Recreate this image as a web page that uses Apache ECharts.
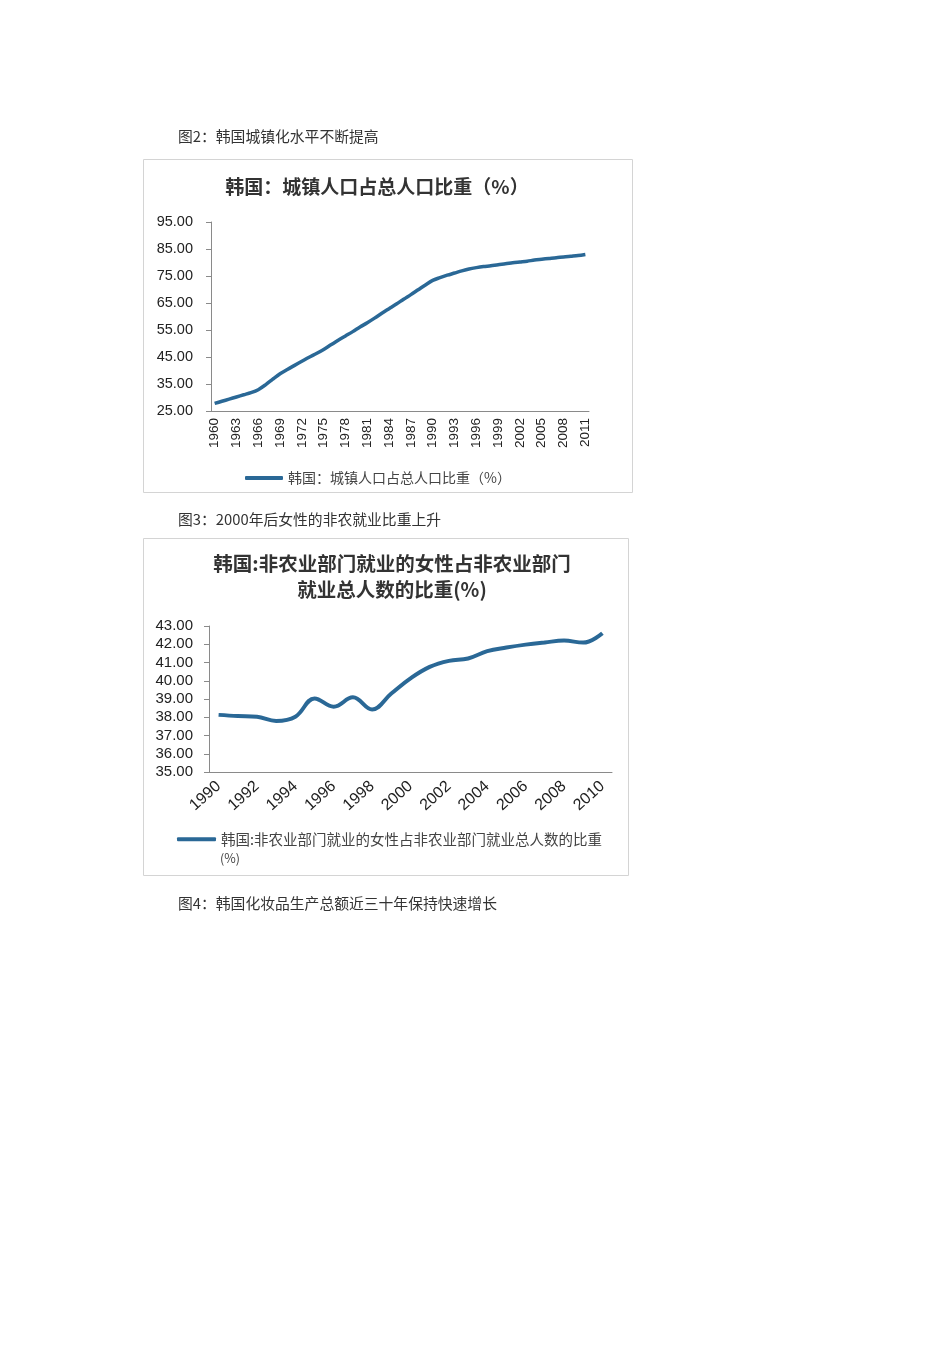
<!DOCTYPE html>
<html>
<head>
<meta charset="utf-8">
<script src="https://cdn.jsdelivr.net/npm/echarts@6/dist/echarts.min.js"></script>
<style>
  html, body { margin: 0; padding: 0; background: #fff; }
  #page { width: 950px; height: 1345px; }
</style>
</head>
<body>
<div id="page"></div>
<script>
// 图2 城镇人口占总人口比重 1960-2011
const urbanYears = []
for (let y = 1960; y <= 2011; y++) urbanYears.push(String(y))
const urbanShare = [
  27.8, 28.6, 29.4, 30.2, 31.0, 31.8, 32.9, 34.7, 36.8, 38.8,
  40.4, 41.9, 43.4, 44.9, 46.3, 47.8, 49.5, 51.2, 52.8, 54.4,
  56.1, 57.7, 59.4, 61.2, 62.9, 64.6, 66.4, 68.1, 69.9, 71.7,
  73.4, 74.4, 75.3, 76.1, 76.9, 77.6, 78.1, 78.5, 78.8, 79.2,
  79.5, 79.9, 80.2, 80.5, 80.9, 81.2, 81.5, 81.8, 82.0, 82.3,
  82.6, 83.0
]
const urbanName = "韩国：城镇人口占总人口比重（%）"

// 图3 非农业部门就业女性比重 1990-2010
const femaleYears = []
for (let y = 1990; y <= 2010; y++) femaleYears.push(String(y))
const femaleShare = [
  38.13, 38.07, 38.03, 37.80, 38.03, 39.03, 38.58, 39.09, 38.43, 39.30,
  40.13, 40.76, 41.09, 41.22, 41.62, 41.82, 41.98, 42.10, 42.20, 42.09,
  42.60
]
const femaleName = "韩国:非农业部门就业的女性占非农业部门就业总人数的比重"

const captions = [
  "图2：韩国城镇化水平不断提高",
  "图3：2000年后女性的非农就业比重上升",
  "图4：韩国化妆品生产总额近三十年保持快速增长"
]

const lineColor = "#2a6896"
const axisColor = "#8a8a8a"
const numFont = "Liberation Sans, Arial, sans-serif"
const cjkFont = "Noto Sans CJK SC, sans-serif"

const dom = document.getElementById("page")
const myChart = echarts.init(dom, null, { renderer: "canvas" })

let option = {
  backgroundColor: "#fff",
  animation: false,
  title: [
    {
      text: "韩国：城镇人口占总人口比重（%）",
      left: 372,
      top: 172,
      textAlign: "center",
      textStyle: { fontFamily: cjkFont, fontSize: 19, fontWeight: "bold", color: "#333" }
    },
    {
      text: "韩国:非农业部门就业的女性占非农业部门\n就业总人数的比重(%)",
      left: 387,
      top: 546,
      textAlign: "center",
      textStyle: { fontFamily: cjkFont, fontSize: 19.5, fontWeight: "bold", color: "#333", lineHeight: 26 }
    }
  ],
  legend: [
    {
      data: [urbanName],
      left: 240,
      top: 466,
      itemWidth: 38,
      itemHeight: 4,
      icon: "roundRect",
      textStyle: { fontFamily: cjkFont, fontSize: 14, color: "#444" }
    },
    {
      data: [femaleName],
      left: 172,
      top: 827,
      itemWidth: 39,
      itemHeight: 4,
      icon: "roundRect",
      textStyle: { fontFamily: cjkFont, fontSize: 14.5, color: "#444" }
    }
  ],
  grid: [
    { left: 211, top: 222, width: 378, height: 189, outerBoundsMode: "none" },
    { left: 209, top: 626, width: 403, height: 146, outerBoundsMode: "none" }
  ],
  xAxis: [
    {
      gridIndex: 0,
      type: "category",
      data: urbanYears,
      boundaryGap: true,
      axisLine: { lineStyle: { color: axisColor } },
      axisTick: { interval: 2, length: 5, lineStyle: { color: axisColor } },
      axisLabel: { interval: 2, rotate: 90, margin: 7, fontFamily: numFont, fontSize: 13.5, color: "#222" }
    },
    {
      gridIndex: 1,
      type: "category",
      data: femaleYears,
      boundaryGap: true,
      axisLine: { lineStyle: { color: axisColor } },
      axisTick: { interval: 1, length: 5, lineStyle: { color: axisColor } },
      axisLabel: { interval: 1, rotate: 42, margin: 12, fontFamily: numFont, fontSize: 16, color: "#222" }
    }
  ],
  yAxis: [
    {
      gridIndex: 0,
      type: "value",
      min: 25,
      max: 95,
      interval: 10,
      splitLine: { show: false },
      axisLine: { show: true, lineStyle: { color: axisColor } },
      axisTick: { show: true, length: 5, lineStyle: { color: axisColor } },
      axisLabel: {
        margin: 18,
        fontFamily: numFont,
        fontSize: 14.5,
        color: "#222",
        formatter: (v) => v.toFixed(2)
      }
    },
    {
      gridIndex: 1,
      type: "value",
      min: 35,
      max: 43,
      interval: 1,
      splitLine: { show: false },
      axisLine: { show: true, lineStyle: { color: axisColor } },
      axisTick: { show: true, length: 5, lineStyle: { color: axisColor } },
      axisLabel: {
        margin: 16,
        fontFamily: numFont,
        fontSize: 15,
        color: "#222",
        formatter: (v) => v.toFixed(2)
      }
    }
  ],
  series: [
    {
      name: urbanName,
      type: "line",
      xAxisIndex: 0,
      yAxisIndex: 0,
      data: urbanShare,
      smooth: 0.3,
      showSymbol: false,
      itemStyle: { color: lineColor },
      lineStyle: { color: lineColor, width: 3.5 }
    },
    {
      name: femaleName,
      type: "line",
      xAxisIndex: 1,
      yAxisIndex: 1,
      data: femaleShare,
      smooth: 0.4,
      showSymbol: false,
      itemStyle: { color: lineColor },
      lineStyle: { color: lineColor, width: 4 }
    }
  ],
  graphic: [
    // 图框
    { type: "rect", shape: { x: 143.5, y: 159.5, width: 489, height: 333 },
      style: { fill: "none", stroke: "#d4d4d4", lineWidth: 1 }, silent: true },
    { type: "rect", shape: { x: 143.5, y: 538.5, width: 485, height: 337 },
      style: { fill: "none", stroke: "#d4d4d4", lineWidth: 1 }, silent: true },
    // 图注
    { type: "text", left: 178, top: 129,
      style: { text: captions[0], fontFamily: cjkFont, fontSize: 14.8, fill: "#333" } },
    { type: "text", left: 178, top: 512,
      style: { text: captions[1], fontFamily: cjkFont, fontSize: 14.8, fill: "#333" } },
    { type: "text", left: 178, top: 896,
      style: { text: captions[2], fontFamily: cjkFont, fontSize: 14.8, fill: "#333" } },
    // 图例第二行
    { type: "text", left: 220, top: 852,
      style: { text: "(%)", fontFamily: cjkFont, fontSize: 12.5, fill: "#444" } }
  ]
}

myChart.setOption(option)
window.addEventListener("resize", function () {
  myChart.resize()
})
</script>
</body>
</html>
